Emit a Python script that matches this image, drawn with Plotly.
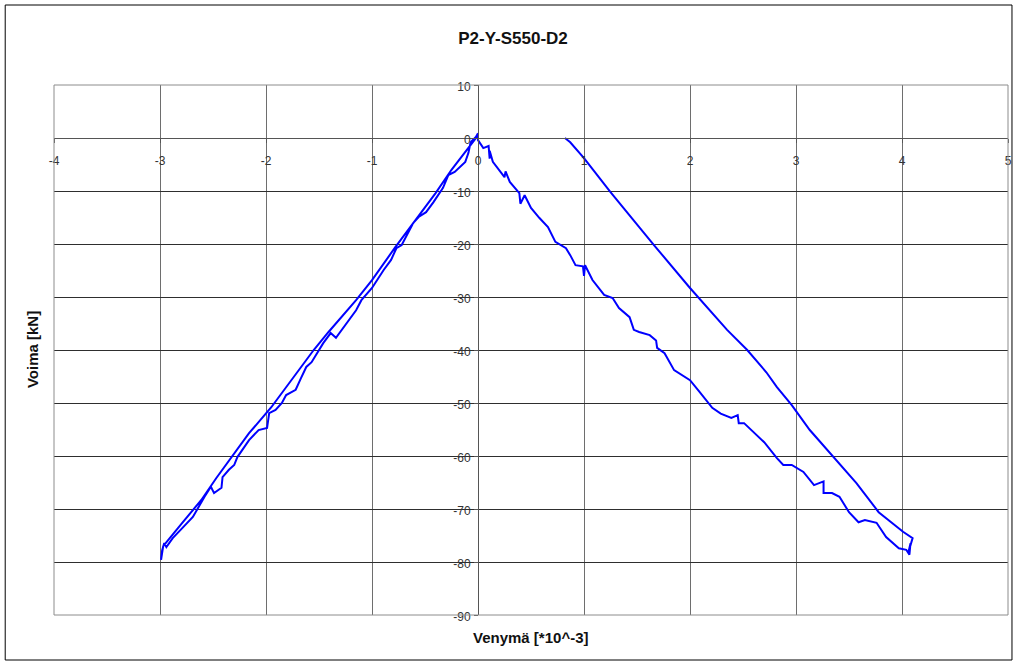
import plotly.graph_objects as go

# Strain [*10^-3] and force [kN] readings, one list per load step
comp_load_x = [0.0, -0.02, -0.07, -0.09, -0.12, -0.22, -0.28, -0.33, -0.42, -0.49, -0.56, -0.61,
               -0.72, -0.77, -0.82, -0.89, -1.00, -1.10, -1.15, -1.31, -1.34, -1.39, -1.46, -1.57,
               -1.62, -1.67, -1.72, -1.81, -1.85, -1.91, -1.97, -1.99, -2.07, -2.16, -2.23, -2.27,
               -2.30, -2.35, -2.41, -2.42, -2.49, -2.52, -2.58, -2.69, -2.79, -2.88, -2.94, -2.96,
               -2.98, -2.99]
comp_load_y = [0.9, 0.2, -0.8, -2.8, -4.5, -6.4, -7.0, -9.4, -12.1, -14.0, -14.9, -16.0,
               -20.2, -20.8, -23.0, -24.9, -28.3, -30.6, -32.5, -36.8, -37.7, -36.8, -38.7, -42.3,
               -43.2, -45.3, -47.5, -48.5, -50.0, -51.3, -51.9, -54.7, -55.1, -57.0, -58.9, -60.2,
               -61.7, -62.6, -64.0, -66.0, -67.0, -65.8, -67.7, -71.5, -73.6, -75.5, -77.2, -76.4,
               -77.8, -79.6]

comp_unload_x = [-2.99, -2.97, -2.79, -2.61, -2.47, -2.32, -2.16, -1.95, -1.78, -1.55, -1.41,
                 -1.15, -1.00, -0.78, -0.59, -0.40, -0.25, -0.09, 0.0]
comp_unload_y = [-79.6, -77.0, -72.6, -68.3, -64.2, -60.2, -55.7, -50.8, -46.2, -40.0, -36.6,
                 -30.6, -26.8, -20.6, -15.5, -10.4, -6.0, -1.9, 0.5]

tens_load_x = [0.0, 0.0, 0.05, 0.10, 0.11, 0.11, 0.14, 0.21, 0.25, 0.26, 0.30, 0.39, 0.40, 0.44,
               0.50, 0.58, 0.66, 0.73, 0.83, 0.87, 0.92, 0.99, 1.00, 1.01, 1.08, 1.19, 1.27, 1.33,
               1.43, 1.47, 1.52, 1.62, 1.68, 1.69, 1.76, 1.85, 2.00, 2.09, 2.21, 2.29, 2.39, 2.45,
               2.46, 2.51, 2.63, 2.70, 2.82, 2.88, 2.96, 3.07, 3.17, 3.26, 3.26, 3.34, 3.41, 3.50,
               3.59, 3.65, 3.76, 3.85, 3.97, 4.04, 4.07, 4.08, 4.06, 4.10]
tens_load_y = [0.9, -0.4, -1.9, -1.5, -3.9, -2.4, -4.5, -6.4, -7.4, -6.3, -8.3, -10.4, -12.4, -10.8,
               -13.2, -15.1, -16.8, -19.6, -20.8, -22.1, -24.0, -24.2, -26.0, -24.0, -26.8, -29.6, -30.2,
               -32.1, -33.8, -36.2, -36.6, -37.2, -38.2, -39.6, -40.6, -43.8, -45.7, -47.9, -50.9, -52.0,
               -52.8, -52.3, -53.8, -53.8, -56.0, -57.4, -60.4, -61.7, -61.7, -63.0, -65.5, -64.8, -67.0,
               -67.0, -67.7, -70.6, -72.5, -72.1, -72.6, -75.3, -77.4, -77.7, -78.6, -76.5, -78.2, -75.5]

tens_unload_x = [4.10, 4.01, 3.78, 3.57, 3.35, 3.13, 2.96, 2.82, 2.72, 2.54, 2.35, 2.00, 1.66,
                 1.25, 1.00, 0.87, 0.82]
tens_unload_y = [-75.5, -74.3, -70.6, -65.1, -60.2, -55.1, -50.4, -47.0, -44.2, -40.0, -36.2,
                 -28.3, -20.2, -10.2, -3.8, -0.8, 0.0]

x_ticks = [-4, -3, -2, -1, 0, 1, 2, 3, 4, 5]
y_ticks = [10, 0, -10, -20, -30, -40, -50, -60, -70, -80, -90]

x_all = comp_load_x + comp_unload_x + tens_load_x + tens_unload_x
y_all = comp_load_y + comp_unload_y + tens_load_y + tens_unload_y

FONT = "Liberation Sans, Arial, sans-serif"
TICK_COLOR = "#333333"

fig = go.Figure()
fig.add_trace(go.Scatter(
    x=x_all, y=y_all, mode="lines",
    line=dict(color="#0000ff", width=2),
    showlegend=False, hoverinfo="x+y",
))

x_min, x_max = x_ticks[0], x_ticks[-1]
y_min, y_max = y_ticks[-1], y_ticks[0]

fig.update_layout(
    width=1019, height=664,
    margin=dict(l=54, r=7, t=85, b=49),
    paper_bgcolor="white", plot_bgcolor="white",
    font=dict(family=FONT, size=12, color=TICK_COLOR),
    title=dict(text="<b>P2-Y-S550-D2</b>", x=513 / 1019, xref="container", xanchor="center",
               y=1 - 38 / 664, yanchor="middle",
               font=dict(family=FONT, size=17, color="#111111")),
    xaxis=dict(
        range=[x_min, x_max], tickvals=x_ticks, ticktext=[str(v) for v in x_ticks],
        showgrid=True, gridcolor="#6e6e6e", gridwidth=1, zeroline=False,
        showline=True, linecolor="#555555", linewidth=1,
        anchor="free", position=(0 - y_min) / (y_max - y_min),
        ticks="outside", ticklen=4, tickcolor="#555555",
        ticklabelstandoff=8, fixedrange=True,
    ),
    yaxis=dict(
        range=[y_min, y_max], tickvals=y_ticks, ticktext=[str(v) for v in y_ticks],
        showgrid=True, gridcolor="#2e2e2e", gridwidth=1, zeroline=False,
        showline=True, linecolor="#555555", linewidth=1,
        anchor="free", position=(0 - x_min) / (x_max - x_min),
        ticks="outside", ticklen=4, tickcolor="#555555",
        ticklabelstandoff=1, ticklabelshift=2, fixedrange=True,
    ),
    annotations=[
        dict(text="<b>Venymä [*10^-3]</b>", xref="paper", yref="paper",
             x=(532 - 54) / 958, y=-(637 - 615) / 530, xanchor="center", yanchor="middle",
             showarrow=False, font=dict(family=FONT, size=15, color="#111111")),
        dict(text="<b>Voima [kN]</b>", xref="paper", yref="paper",
             x=-(54 - 32) / 958, y=0.5, xanchor="center", yanchor="middle",
             textangle=-90, showarrow=False,
             font=dict(family=FONT, size=15, color="#111111")),
    ],
    shapes=[
        # plot area frame
        dict(type="rect", xref="paper", yref="paper", x0=0, y0=0, x1=1, y1=1,
             line=dict(color="#8c8c8c", width=1), layer="above"),
        # chart border
        dict(type="rect", xref="paper", yref="paper",
             x0=(5 - 54) / 958, x1=(1016 - 54) / 958,
             y0=1 - (660 - 85) / 530, y1=1 - (5 - 85) / 530,
             line=dict(color="black", width=1)),
    ],
)

fig.write_html("out.html")
